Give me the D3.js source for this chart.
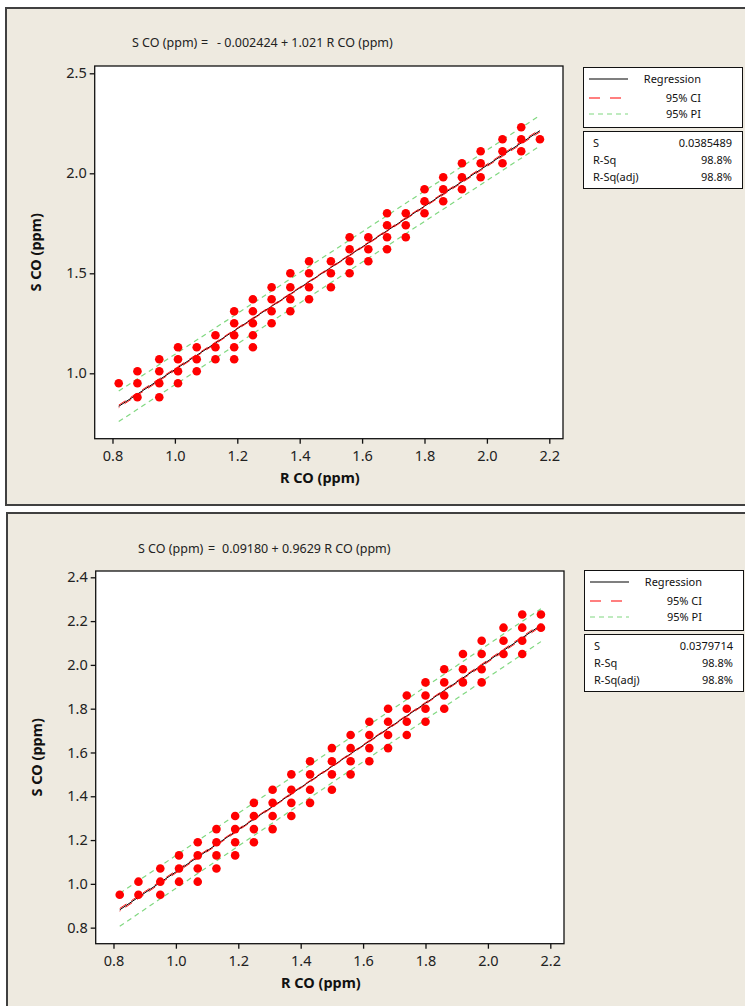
<html>
  <head>
    <meta charset="utf-8">
    <script src="https://cdn.jsdelivr.net/npm/d3@7"></script>
    <style>
      body { margin: 0; background: #fff; }
      text { font-family: "Noto Sans", "DejaVu Sans", sans-serif; }
    </style>
  </head>
  <body>
    <script>
      // R CO levels (x) and the S CO readings found at each level
      var rco = [0.82, 0.88, 0.95, 1.01, 1.07, 1.13, 1.19, 1.25, 1.31, 1.37, 1.43, 1.50,
                 1.56, 1.62, 1.68, 1.74, 1.80, 1.86, 1.92, 1.98, 2.05, 2.11, 2.17];

      var scoTop = [
        [0.95], [1.01, 0.95, 0.88], [1.07, 1.01, 0.95, 0.88], [1.13, 1.07, 1.01, 0.95],
        [1.13, 1.07, 1.01], [1.19, 1.13, 1.07], [1.31, 1.25, 1.19, 1.13, 1.07],
        [1.37, 1.31, 1.25, 1.19, 1.13], [1.43, 1.37, 1.31, 1.25], [1.50, 1.43, 1.37, 1.31],
        [1.56, 1.50, 1.43, 1.37], [1.56, 1.50, 1.43], [1.68, 1.62, 1.56, 1.50],
        [1.68, 1.62, 1.56], [1.80, 1.74, 1.68, 1.62], [1.80, 1.74, 1.68], [1.92, 1.86, 1.80],
        [1.98, 1.92, 1.86], [2.05, 1.98, 1.92], [2.11, 2.05, 1.98], [2.17, 2.11, 2.05],
        [2.23, 2.17, 2.11], [2.17]
      ];

      var scoBottom = [
        [0.95], [1.01, 0.95], [1.07, 1.01, 0.95], [1.13, 1.07, 1.01], [1.19, 1.13, 1.07, 1.01],
        [1.25, 1.19, 1.13, 1.07], [1.31, 1.25, 1.19, 1.13], [1.37, 1.31, 1.25, 1.19],
        [1.43, 1.37, 1.31, 1.25], [1.50, 1.43, 1.37, 1.31], [1.56, 1.50, 1.43, 1.37],
        [1.62, 1.56, 1.50, 1.43], [1.68, 1.62, 1.56, 1.50], [1.74, 1.68, 1.62, 1.56],
        [1.80, 1.74, 1.68, 1.62], [1.86, 1.80, 1.74, 1.68], [1.92, 1.86, 1.80, 1.74],
        [1.98, 1.92, 1.86, 1.80], [2.05, 1.98, 1.92], [2.11, 2.05, 1.98, 1.92],
        [2.17, 2.11, 2.05], [2.23, 2.17, 2.11, 2.05], [2.23, 2.17]
      ];

      var xTicks = [0.8, 1.0, 1.2, 1.4, 1.6, 1.8, 2.0, 2.2];
      var yTicksTop = [1.0, 1.5, 2.0, 2.5];
      var yTicksBottom = [0.8, 1.0, 1.2, 1.4, 1.6, 1.8, 2.0, 2.2, 2.4];

      var coefTop = [-0.002424, 1.021];
      var coefBottom = [0.09180, 0.9629];
      var titleTop = "- 0.002424 + 1.021 R CO (ppm)";
      var titleBottom = "0.09180 + 0.9629 R CO (ppm)";

      var statLabels = ["S", "R-Sq", "R-Sq(adj)"];
      var statsTop = ["0.0385489", "98.8%", "98.8%"];
      var statsBottom = ["0.0379714", "98.8%", "98.8%"];

      // plotted dots overlap: many readings sit on the same grid spot
      var repeatsPerDot = 8;

      var W = 745, H = 1006;
      var svg = d3.select("body").append("svg")
                  .attr("width", W)
                  .attr("height", H);

      function panel(o) {
        var g = svg.append("g").attr("transform", "translate(" + o.dx + "," + o.dy + ")");

        // beige frame
        g.append("rect")
           .attr("x", 6).attr("y", 8)
           .attr("width", 800).attr("height", o.frameH)
           .attr("fill", "#eeeae0")
           .attr("stroke", "#404040")
           .attr("stroke-width", 2);

        var L = 94.7, R = 563, T = 66, B = 438.7;
        var x = d3.scaleLinear().domain([0.743, 2.2439]).range([L, R]);
        var y = d3.scaleLinear().domain(o.yDomain).range([B, T]);

        g.append("rect")
           .attr("x", L).attr("y", T)
           .attr("width", R - L).attr("height", B - T)
           .attr("fill", "#fff");

        // points
        var pts = [];
        rco.forEach(function(xv, i) {
          o.sco[i].forEach(function(yv) { pts.push({x: xv, y: yv}); });
        });

        // regression + intervals
        var n = pts.length * repeatsPerDot;
        var xbar = d3.mean(pts, function(d) { return d.x; });
        var sxx = repeatsPerDot * d3.sum(pts, function(d) { return (d.x - xbar) * (d.x - xbar); });
        var t = 1.97;
        function fit(v) { return o.coef[0] + o.coef[1] * v; }
        function band(k, extra) {
          return rco.map(function(v) {
            var se = o.s * Math.sqrt(extra + 1 / n + (v - xbar) * (v - xbar) / sxx);
            return {x: v, y: fit(v) + k * t * se};
          });
        }
        var line = d3.line().x(function(d) { return x(d.x); }).y(function(d) { return y(d.y); });

        [band(1, 1), band(-1, 1)].forEach(function(b) {
          g.append("path").attr("d", line(b))
             .attr("fill", "none").attr("stroke", "#80d880")
             .attr("stroke-width", 1.2).attr("stroke-dasharray", "5,4");
        });
        g.append("path").attr("d", line(band(0, 0)))
           .attr("fill", "none").attr("stroke", "#000").attr("stroke-width", 1);
        [band(1, 0), band(-1, 0)].forEach(function(b, i) {
          g.append("path").attr("d", line(b))
             .attr("fill", "none").attr("stroke", "#ff0000")
             .attr("stroke-width", 0.9).attr("stroke-dasharray", "8,6")
             .attr("stroke-dashoffset", i * 7);
        });

        g.selectAll("circle.pt")
           .data(pts)
           .enter()
           .append("circle")
             .attr("class", "pt")
             .attr("cx", function(d) { return x(d.x); })
             .attr("cy", function(d) { return y(d.y); })
             .attr("r", 4.3)
             .attr("fill", "#ff0000");

        // frame and axes
        g.append("rect")
           .attr("x", L).attr("y", T)
           .attr("width", R - L).attr("height", B - T)
           .attr("fill", "none").attr("stroke", "#111").attr("stroke-width", 1.3);

        var fmt = d3.format(".1f");
        var ax = g.append("g").attr("transform", "translate(0," + B + ")")
                  .call(d3.axisBottom(x).tickValues(xTicks).tickFormat(fmt)
                          .tickSize(5).tickPadding(7).tickSizeOuter(0));
        var ay = g.append("g").attr("transform", "translate(" + L + ",0)")
                  .call(d3.axisLeft(y).tickValues(o.yTicks).tickFormat(fmt)
                          .tickSize(5).tickPadding(3).tickSizeOuter(0));
        [ax, ay].forEach(function(a) {
          a.select(".domain").remove();
          a.selectAll("line").attr("stroke", "#111").attr("stroke-width", 1.3);
          a.selectAll("text").attr("font-family", "Noto Sans").attr("font-size", 14.5).attr("fill", "#222");
        });

        g.append("text")
           .attr("x", (L + R) / 2 - 9).attr("y", B + 44)
           .attr("text-anchor", "middle")
           .attr("font-family", "DejaVu Sans").attr("font-weight", "bold")
           .attr("font-size", 14.5).attr("fill", "#111")
           .text("R CO (ppm)");
        g.append("text")
           .attr("transform", "translate(41," + (T + B) / 2 + ") rotate(-90)")
           .attr("text-anchor", "middle")
           .attr("font-family", "DejaVu Sans").attr("font-weight", "bold")
           .attr("font-size", 14.5).attr("fill", "#111")
           .text("S CO (ppm)");

        // title
        var ty = o.titleY;
        g.append("text").attr("x", o.titleX[0]).attr("y", ty)
           .attr("font-size", 12.5).attr("fill", "#222").text("S CO (ppm)");
        g.append("text").attr("x", o.titleX[1]).attr("y", ty)
           .attr("font-size", 12.5).attr("fill", "#222").text("=");
        g.append("text").attr("x", o.titleX[2]).attr("y", ty)
           .attr("font-size", 12.5).attr("fill", "#222").text(o.title);

        // legend
        var lx = 583, ly = o.legY;
        g.append("rect").attr("x", lx + 0.5).attr("y", ly + 0.5)
           .attr("width", 159).attr("height", 60)
           .attr("fill", "#fff").attr("stroke", "#111");
        var leg = [
          {name: "Regression", color: "#000", dash: null},
          {name: "95% CI", color: "#ff0000", dash: "11,10"},
          {name: "95% PI", color: "#80d880", dash: "5,4"}
        ];
        var rows = [12, 31, 47];
        leg.forEach(function(d, i) {
          g.append("line")
             .attr("x1", 589).attr("x2", 628)
             .attr("y1", ly + rows[i]).attr("y2", ly + rows[i])
             .attr("stroke", d.color).attr("stroke-width", 1.2)
             .attr("stroke-dasharray", d.dash);
          g.append("text")
             .attr("x", 701).attr("y", ly + rows[i] + 4)
             .attr("text-anchor", "end")
             .attr("font-family", "DejaVu Sans").attr("font-size", 11).attr("fill", "#111")
             .text(d.name);
        });

        var sy = ly + 64;
        g.append("rect").attr("x", lx + 0.5).attr("y", sy + 0.5)
           .attr("width", 159).attr("height", 57)
           .attr("fill", "#fff").attr("stroke", "#111");
        var srows = [16, 33, 50];
        statLabels.forEach(function(s, i) {
          g.append("text")
             .attr("x", 593).attr("y", sy + srows[i])
             .attr("font-family", "DejaVu Sans").attr("font-size", 11).attr("fill", "#111")
             .text(s);
          g.append("text")
             .attr("x", 732).attr("y", sy + srows[i])
             .attr("text-anchor", "end")
             .attr("font-family", "DejaVu Sans").attr("font-size", 11).attr("fill", "#111")
             .text(o.stats[i]);
        });
      }

      panel({dx: 0, dy: 0, frameH: 497, sco: scoTop, coef: coefTop, s: 0.0385489,
             yDomain: [0.673, 2.5365], yTicks: yTicksTop,
             title: titleTop, titleX: [132, 201, 217], titleY: 47,
             legY: 67, stats: statsTop});
      panel({dx: 1, dy: 505, frameH: 520, sco: scoBottom, coef: coefBottom, s: 0.0379714,
             yDomain: [0.7267, 2.4288], yTicks: yTicksBottom,
             title: titleBottom, titleX: [137, 207, 221], titleY: 48,
             legY: 65, stats: statsBottom});
    </script>
  </body>
</html>
